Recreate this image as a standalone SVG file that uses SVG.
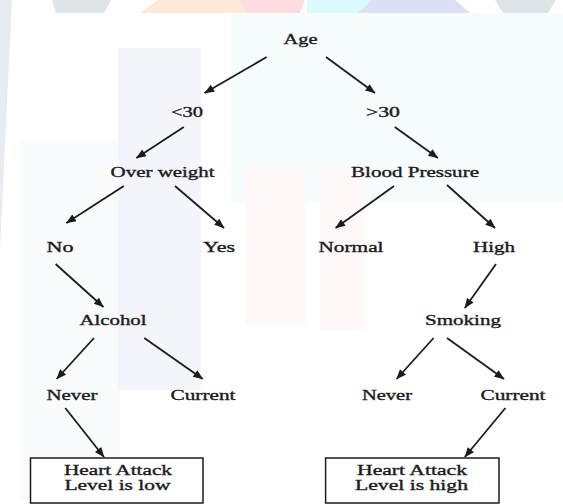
<svg xmlns="http://www.w3.org/2000/svg" width="563" height="504" viewBox="0 0 563 504">
  <defs>
    <style>
      .lbl { font-family: "Liberation Serif", "Times New Roman", serif; font-size: 14px; fill: #1c1c1c; stroke: #1c1c1c; stroke-width: 0.35px; text-anchor: middle; }
      .edge { stroke: #1c1c1c; stroke-width: 1.8; fill: none; marker-end: url(#ah); }
      .box { fill: #ffffff; stroke: #1c1c1c; stroke-width: 1.5; }
    </style>
    <marker id="ah" viewBox="0 0 10 8" refX="9.5" refY="4" markerWidth="11" markerHeight="8" markerUnits="userSpaceOnUse" orient="auto">
      <path d="M0,0 L10,4 L0,8 z" fill="#1c1c1c"/>
    </marker>
  </defs>

  <g id="background">
    <rect x="0" y="0" width="563" height="504" fill="#ffffff"/>
    <rect x="230" y="13" width="333" height="190" fill="#f7fcfd"/>
    <rect x="20" y="140" width="100" height="360" fill="#f9fbfd"/>
    <rect x="118" y="48" width="83" height="342" fill="#f3f5fb"/>
    <rect x="245" y="165" width="60" height="160" fill="#fef9f8"/>
    <rect x="320" y="170" width="45" height="160" fill="#fef9f8"/>
    <polygon points="0,0 12,0 0,250" fill="#e8ecf0"/>
    <polygon points="52,0 111,0 104,13 56,13" fill="#dfe4e9"/>
    <polygon points="158,0 244,0 251,13 140,13" fill="#fde9da"/>
    <polygon points="240,0 305,0 300,13 248,13" fill="#fddde0"/>
    <polygon points="307,0 372,0 360,13 307,13" fill="#d9fbfd"/>
    <polygon points="372,0 455,0 470,13 358,13" fill="#dce0f5"/>
    <polygon points="495,0 556,0 548,13 503,13" fill="#dfe4e9"/>
  </g>

  <g id="connectors">
    <line class="edge" x1="266.7" y1="57" x2="204.6" y2="93"/>
    <line class="edge" x1="326" y1="57" x2="375" y2="93"/>
    <line class="edge" x1="183.8" y1="127" x2="136.4" y2="158"/>
    <line class="edge" x1="394.8" y1="127" x2="437.9" y2="158"/>
    <line class="edge" x1="123.8" y1="186" x2="66.4" y2="223"/>
    <line class="edge" x1="175" y1="186" x2="224" y2="228"/>
    <line class="edge" x1="394" y1="186" x2="335.6" y2="228"/>
    <line class="edge" x1="447" y1="185" x2="495" y2="228"/>
    <line class="edge" x1="55.6" y1="264" x2="103.4" y2="307"/>
    <line class="edge" x1="496" y1="264" x2="464.8" y2="308"/>
    <line class="edge" x1="94" y1="338" x2="56.7" y2="379"/>
    <line class="edge" x1="144.3" y1="338" x2="202.8" y2="379"/>
    <line class="edge" x1="433.6" y1="338" x2="396.6" y2="379"/>
    <line class="edge" x1="447" y1="338" x2="504" y2="379"/>
    <line class="edge" x1="65.3" y1="408" x2="104" y2="457"/>
    <line class="edge" x1="505.4" y1="408" x2="464.8" y2="457"/>
  </g>

  <g id="age"><text class="lbl" x="300.6" y="44" textLength="34" lengthAdjust="spacingAndGlyphs">Age</text></g>
  <g id="lt30"><text class="lbl" x="187" y="117" textLength="32" lengthAdjust="spacingAndGlyphs">&lt;30</text></g>
  <g id="gt30"><text class="lbl" x="383" y="117" textLength="34" lengthAdjust="spacingAndGlyphs">&gt;30</text></g>
  <g id="overweight"><text class="lbl" x="162.6" y="177" textLength="104" lengthAdjust="spacingAndGlyphs">Over weight</text></g>
  <g id="bloodpressure"><text class="lbl" x="415" y="177" textLength="128" lengthAdjust="spacingAndGlyphs">Blood Pressure</text></g>
  <g id="no"><text class="lbl" x="60" y="252" textLength="27" lengthAdjust="spacingAndGlyphs">No</text></g>
  <g id="yes"><text class="lbl" x="219" y="252" textLength="32" lengthAdjust="spacingAndGlyphs">Yes</text></g>
  <g id="normal"><text class="lbl" x="351" y="252" textLength="65" lengthAdjust="spacingAndGlyphs">Normal</text></g>
  <g id="high"><text class="lbl" x="494" y="252" textLength="42" lengthAdjust="spacingAndGlyphs">High</text></g>
  <g id="alcohol"><text class="lbl" x="113" y="325" textLength="67" lengthAdjust="spacingAndGlyphs">Alcohol</text></g>
  <g id="smoking"><text class="lbl" x="463" y="325" textLength="76" lengthAdjust="spacingAndGlyphs">Smoking</text></g>
  <g id="never-left"><text class="lbl" x="72" y="400" textLength="51" lengthAdjust="spacingAndGlyphs">Never</text></g>
  <g id="current-left"><text class="lbl" x="203" y="400" textLength="65" lengthAdjust="spacingAndGlyphs">Current</text></g>
  <g id="never-right"><text class="lbl" x="387" y="400" textLength="50" lengthAdjust="spacingAndGlyphs">Never</text></g>
  <g id="current-right"><text class="lbl" x="513" y="400" textLength="65" lengthAdjust="spacingAndGlyphs">Current</text></g>

  <g id="result-low">
    <rect class="box" x="30.5" y="458" width="172.5" height="45"/>
    <text class="lbl" x="118" y="475" textLength="108" lengthAdjust="spacingAndGlyphs">Heart Attack</text>
    <text class="lbl" x="117.5" y="490" textLength="106" lengthAdjust="spacingAndGlyphs">Level is low</text>
  </g>
  <g id="result-high">
    <rect class="box" x="325.6" y="458" width="173.4" height="45"/>
    <text class="lbl" x="412" y="475" textLength="110" lengthAdjust="spacingAndGlyphs">Heart Attack</text>
    <text class="lbl" x="411.5" y="490" textLength="113" lengthAdjust="spacingAndGlyphs">Level is high</text>
  </g>
</svg>
